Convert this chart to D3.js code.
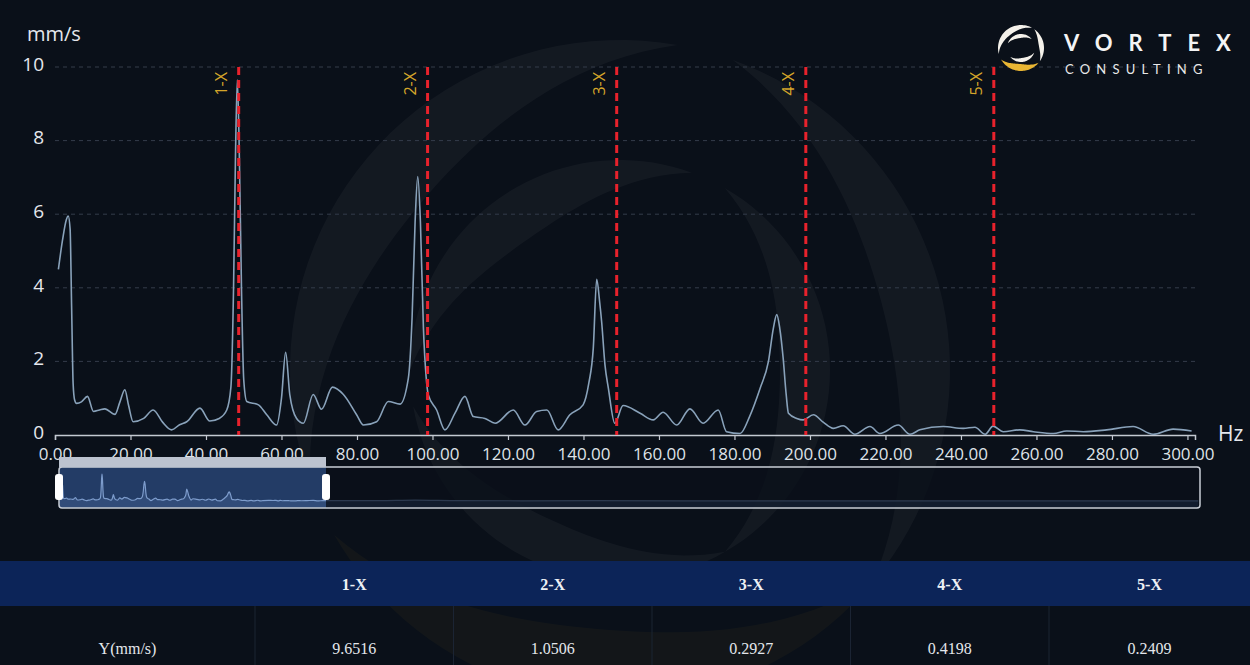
<!DOCTYPE html>
<html><head><meta charset="utf-8">
<script src="https://cdn.jsdelivr.net/npm/d3@7/dist/d3.min.js"></script>
<style>
html,body{margin:0;padding:0;background:#0a1019;overflow:hidden;}
svg{display:block;}
</style></head><body>
<svg id="c" width="1250" height="665"></svg>
<script>
// ---------- data ----------
const freq = [0.9,2.0,3.0,3.5,4.0,4.4,4.8,5.2,5.7,7.0,8.6,10.2,11.8,13.2,15.9,17.2,18.5,19.5,20.7,23.5,26.0,28.5,30.9,33.0,34.9,38.4,41.0,43.5,45.5,46.6,47.3,47.8,48.3,48.8,49.4,50.0,50.8,53.9,56.1,58.7,60.0,61.1,62.2,64.0,65.8,68.4,70.6,73.5,76.4,79.9,81.7,85.2,88.3,91.4,93.6,94.6,95.4,96.1,96.8,97.6,98.3,98.9,101.1,103.3,106.0,108.6,110.8,113.9,116.6,121.4,124.5,127.6,130.3,133.3,136.4,139.9,141.4,142.6,143.5,144.3,144.8,145.7,146.6,148.3,150.5,155.0,158.5,161.1,164.7,168.2,171.7,175.7,177.9,181.5,184.0,186.8,189.0,190.3,191.2,192.0,192.9,193.7,194.3,196.5,198.2,200.9,203.5,206.2,208.8,211.9,215.9,218.5,223.4,226.5,229.1,235.3,240.6,243.7,246.4,248.5,251.2,255.6,259.2,264.5,268.0,272.4,278.6,285.6,290.9,296.2,301.1];
const amp = [4.5,5.3,5.85,5.95,5.6,3.5,1.4,0.95,0.86,0.9,1.05,0.64,0.68,0.71,0.56,0.9,1.23,0.8,0.36,0.45,0.68,0.35,0.14,0.28,0.36,0.73,0.38,0.45,0.68,1.3,4.0,7.5,9.65,7.8,4.0,1.5,0.91,0.82,0.55,0.27,1.0,2.25,1.1,0.45,0.32,1.1,0.7,1.3,1.1,0.55,0.27,0.36,0.91,0.84,1.54,3.2,5.8,7.02,5.8,2.9,1.6,1.09,0.68,0.14,0.6,1.05,0.5,0.45,0.32,0.68,0.27,0.64,0.68,0.14,0.55,0.82,1.4,2.36,4.23,3.6,3.09,1.9,1.27,0.32,0.8,0.59,0.41,0.62,0.27,0.71,0.32,0.68,0.09,0.04,0.5,1.27,2.0,2.9,3.27,2.9,2.09,1.1,0.59,0.45,0.41,0.55,0.35,0.18,0.25,0.02,0.23,0.04,0.27,0.02,0.14,0.23,0.18,0.21,0.02,0.24,0.09,0.14,0.09,0.04,0.11,0.09,0.14,0.23,0.02,0.16,0.11];
// overview (slider) tail beyond the visible window
const tailFreq = [320,360,400,450,520,600,700,800,900,1000,1100,1200,1280];
const tailAmp = [0.1,0.12,0.3,0.1,0.08,0.1,0.06,0.08,0.05,0.07,0.05,0.06,0.05];

const harmonicLabels = ["1-X","2-X","3-X","4-X","5-X"];
const harmonicFreq = [48.66,98.7,148.8,198.9,248.7];
const harmonicValues = ["9.6516","1.0506","0.2927","0.4198","0.2409"];
const rowLabel = "Y(mm/s)";
const xTicks = [0,20,40,60,80,100,120,140,160,180,200,220,240,260,280,300];
const yTicks = [0,2,4,6,8,10];
const yUnit = "mm/s";
const xUnit = "Hz";
const windowRange = [0,300];
const fullRange = [0,1282];

// ---------- setup ----------
const svg = d3.select("#c");
svg.append("rect").attr("width",1250).attr("height",665).attr("fill","#0a1019");

function crescent(cx, cy, R, a0, a1, w) {
  const N = 40, pts = [];
  for (let i = 0; i <= N; i++) { const t=i/N, a=(a0+(a1-a0)*t)*Math.PI/180; pts.push([cx+R*Math.cos(a), cy+R*Math.sin(a)]); }
  for (let i = N; i >= 0; i--) { const t=i/N, a=(a0+(a1-a0)*t)*Math.PI/180, r=R-w*Math.sin(Math.PI*t); pts.push([cx+r*Math.cos(a), cy+r*Math.sin(a)]); }
  return d3.line().curve(d3.curveLinearClosed)(pts);
}

// watermark
const wm = svg.append("g").attr("opacity",0.035);
const wcx=620, wcy=370;
[[330,160,280,70,"#fff"],[330,290,400,60,"#fff"],[330,40,150,70,"#f2c230"],[210,180,290,50,"#fff"],[210,300,420,50,"#fff"],[210,60,170,45,"#fff"]]
  .forEach(d => wm.append("path").attr("d",crescent(wcx,wcy,d[0],d[1],d[2],d[3])).attr("fill",d[4]));

// ---------- main chart ----------
const x = d3.scaleLinear().domain([0,302]).range([55,1195]);
const y = d3.scaleLinear().domain([0,10]).range([435,67]);

svg.append("g").selectAll("line").data(yTicks.filter(d=>d>0)).join("line")
  .attr("x1",55).attr("x2",1195).attr("y1",d=>y(d)).attr("y2",d=>y(d))
  .attr("stroke","#343c4a").attr("stroke-width",1).attr("stroke-dasharray","4,4");

svg.append("g").selectAll("text").data(yTicks).join("text")
  .attr("x",44).attr("y",d=>y(d)-3).attr("dy","0.36em").attr("text-anchor","end")
  .attr("fill","#e4e7ec").attr("font-family","Open Sans").attr("font-size",19).text(d=>d);

svg.append("text").attr("x",27).attr("y",41).attr("fill","#e4e7ec")
  .attr("font-family","Open Sans").attr("font-size",20).text(yUnit);

const xAxis = svg.append("g").attr("transform","translate(0,435)")
  .call(d3.axisBottom(x).tickValues(xTicks).tickFormat(d3.format(".2f")).tickSize(5).tickSizeOuter(5).tickPadding(8));
xAxis.select(".domain").attr("stroke","#c4c9d1").attr("stroke-width",1.5);
xAxis.selectAll(".tick line").attr("stroke","#c4c9d1").attr("stroke-width",1.2);
xAxis.selectAll(".tick text").attr("fill","#dfe3e8").attr("font-family","Open Sans").attr("font-size",17);

svg.append("text").attr("x",1218).attr("y",441).attr("fill","#e4e7ec")
  .attr("font-family","Open Sans").attr("font-size",21).text(xUnit);

const pts = freq.map((f,i)=>[f,amp[i]]);
svg.append("path").datum(pts)
  .attr("d", d3.line().x(d=>x(d[0])).y(d=>y(d[1])).curve(d3.curveMonotoneX))
  .attr("fill","none").attr("stroke","#89a2ba").attr("stroke-width",1.6);

const hg = svg.append("g");
hg.selectAll("line").data(harmonicFreq).join("line")
  .attr("x1",d=>x(d)).attr("x2",d=>x(d)).attr("y1",y(10)).attr("y2",435)
  .attr("stroke","#e8222c").attr("stroke-width",3).attr("stroke-dasharray","8,5");
hg.selectAll("text").data(harmonicFreq).join("text")
  .attr("transform",d=>`translate(${x(d)-12},72) rotate(-90)`)
  .attr("text-anchor","end").attr("fill","#d4a52a").attr("font-family","Open Sans").attr("font-size",16)
  .text((d,i)=>harmonicLabels[i]);

// ---------- slider / overview ----------
const sx = d3.scaleLinear().domain(fullRange).range([59,1200]);
const sy = d3.scaleLinear().domain([0,10]).range([501,473]);
const allPts = pts.concat(tailFreq.map((f,i)=>[f,tailAmp[i]]));
const selX0 = sx(windowRange[0]), selX1 = sx(windowRange[1]);

svg.append("rect").attr("x",selX0).attr("y",467).attr("width",selX1-selX0).attr("height",41)
  .attr("fill","#233c66");
svg.append("path").datum(allPts)
  .attr("d", d3.area().x(d=>sx(d[0])).y0(507).y1(d=>sy(d[1])).curve(d3.curveMonotoneX))
  .attr("fill","#3a5786").attr("opacity",0.6);
svg.append("path").datum(allPts)
  .attr("d", d3.line().x(d=>sx(d[0])).y(d=>sy(d[1])).curve(d3.curveMonotoneX))
  .attr("fill","none").attr("stroke","#7d9ccc").attr("stroke-width",1.2);
svg.append("rect").attr("x",selX1).attr("y",467).attr("width",1200-selX1).attr("height",41)
  .attr("fill","#0a1019").attr("opacity",0.7);
svg.append("rect").attr("x",59).attr("y",467).attr("width",1141).attr("height",41).attr("rx",3)
  .attr("fill","none").attr("stroke","#c9ced6").attr("stroke-width",1.5);
svg.append("rect").attr("x",selX0).attr("y",457).attr("width",selX1-selX0).attr("height",10)
  .attr("fill","#bcc3cf");
svg.append("g").selectAll("rect").data([selX0, selX1]).join("rect")
  .attr("x",d=>d-4).attr("y",474).attr("width",8).attr("height",26).attr("rx",3).attr("fill","#ffffff");

// ---------- table ----------
const tb = svg.append("g");
tb.append("rect").attr("x",0).attr("y",561).attr("width",1250).attr("height",45).attr("fill","#0c2458");
const colEdges = [0,255,453.5,652,850.5,1049,1250];
tb.selectAll("line.sep").data(colEdges.slice(1,-1)).join("line").attr("class","sep")
  .attr("x1",d=>d).attr("x2",d=>d).attr("y1",606).attr("y2",665).attr("stroke","#1b2433").attr("stroke-width",1);
const centers = colEdges.slice(0,-1).map((d,i)=>(d+colEdges[i+1])/2);
tb.selectAll("text.h").data(harmonicLabels).join("text").attr("class","h")
  .attr("x",(d,i)=>centers[i+1]).attr("y",590).attr("text-anchor","middle")
  .attr("fill","#eef1f5").attr("font-family","Liberation Serif").attr("font-weight","bold").attr("font-size",16).text(d=>d);
tb.append("text").attr("x",centers[0]).attr("y",654).attr("text-anchor","middle")
  .attr("fill","#e4e7ec").attr("font-family","Liberation Serif").attr("font-size",16).text(rowLabel);
tb.selectAll("text.v").data(harmonicValues).join("text").attr("class","v")
  .attr("x",(d,i)=>centers[i+1]).attr("y",654).attr("text-anchor","middle")
  .attr("fill","#e4e7ec").attr("font-family","Liberation Serif").attr("font-size",16).text(d=>d);

// ---------- logo ----------
const lg = svg.append("g");
const lcx=1021, lcy=48;
[[23,165,300,6,"#f4f1ea"],[23,305,395,5,"#f4f1ea"],[23,40,150,7,"#e8b533"],[14,200,320,4,"#f4f1ea"],[14,20,140,4,"#f4f1ea"]]
  .forEach(d => lg.append("path").attr("d",crescent(lcx,lcy,d[0],d[1],d[2],d[3])).attr("fill",d[4]));
lg.append("text").attr("x",1064).attr("y",51).attr("fill","#f4f4f4").attr("font-family","Lato")
  .attr("font-weight","bold").attr("font-size",22).attr("letter-spacing",16).text("VORTEX");
lg.append("text").attr("x",1065).attr("y",74).attr("fill","#e8e8e8").attr("font-family","Lato")
  .attr("font-size",13).attr("letter-spacing",6.2).text("CONSULTING");
</script>
</body></html>
